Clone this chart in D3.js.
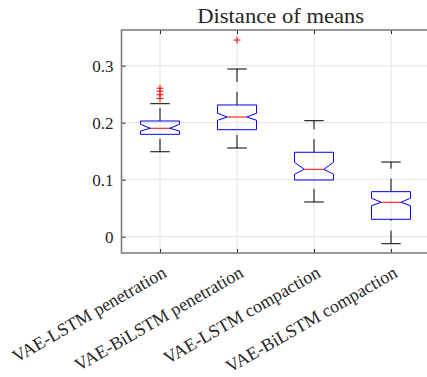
<!DOCTYPE html>
<html>
<head>
<meta charset="utf-8">
<script src="https://cdn.jsdelivr.net/npm/d3@7"></script>
<style>
  body { margin: 0; background: #fff; }
  svg { display: block; }
</style>
</head>
<body>
<div id="chart"></div>
<script>
const categories = ["VAE-LSTM penetration", "VAE-BiLSTM penetration", "VAE-LSTM compaction", "VAE-BiLSTM compaction"];
const q1 = [0.1796, 0.1877, 0.0995, 0.0305];
const q3 = [0.2030, 0.2311, 0.1481, 0.0790];
const medians = [0.1902, 0.2100, 0.1182, 0.0604];
const notchLo = [0.1854, 0.2042, 0.1095, 0.0544];
const notchHi = [0.1972, 0.2165, 0.1305, 0.0674];
const whiskerLo = [0.1490, 0.1556, 0.0609, -0.0123];
const whiskerHi = [0.2333, 0.2942, 0.2035, 0.1310];
const outliers = [[0.2425, 0.2490, 0.2555, 0.2605], [0.3450], [], []];
const yTicks = [0, 0.1, 0.2, 0.3];
const yTickLabels = ["0", "0.1", "0.2", "0.3"];

const width = 427, height = 377;
const mLeft = 121.5, mRight = 429.5, mTop = 30, mBottom = 253;
const serif = "Liberation Serif";

let svg = d3.select("#chart").append("svg")
    .attr("width", width)
    .attr("height", height);

let x = d3.scaleLinear().domain([0.5, 4.5]).range([mLeft, mRight]);
let y = d3.scaleLinear().domain([-0.0286, 0.3626]).range([mBottom, mTop]);
let pos = categories.map((c, i) => i + 1);

// grid
let grid = svg.append("g").attr("stroke", "#e3e3e3").attr("stroke-width", 1);
grid.selectAll("line.gy").data(yTicks).join("line")
    .attr("x1", mLeft).attr("x2", mRight)
    .attr("y1", d => y(d)).attr("y2", d => y(d));
grid.selectAll("line.gx").data(pos).join("line")
    .attr("x1", d => x(d)).attr("x2", d => x(d))
    .attr("y1", mTop).attr("y2", mBottom);

// axes (MATLAB style: ticks inside, box on), labels drawn separately
let yAxis = d3.axisLeft(y).tickValues(yTicks).tickSize(-4).tickFormat("");
let gy = svg.append("g").attr("transform", `translate(${mLeft},0)`).call(yAxis);
gy.select(".domain").remove();
gy.selectAll(".tick line").attr("stroke", "#262626");

let xAxisTop = d3.axisTop(x).tickValues(pos).tickSize(-4).tickFormat("");
let gxt = svg.append("g").attr("transform", `translate(0,${mTop})`).call(xAxisTop);
gxt.select(".domain").remove();
gxt.selectAll(".tick line").attr("stroke", "#262626");

let xAxis = d3.axisBottom(x).tickValues(pos).tickSize(-4).tickFormat("");
let gx = svg.append("g").attr("transform", `translate(0,${mBottom})`).call(xAxis);
gx.select(".domain").remove();
gx.selectAll(".tick line").attr("stroke", "#262626");

svg.append("rect")
    .attr("x", mLeft).attr("y", mTop)
    .attr("width", mRight - mLeft).attr("height", mBottom - mTop)
    .attr("fill", "none").attr("stroke", "#7f7f7f").attr("stroke-width", 1.6);

// y tick labels
svg.append("g").selectAll("text").data(yTicks).join("text")
    .attr("x", mLeft - 8)
    .attr("y", d => y(d) + 6)
    .attr("text-anchor", "end")
    .attr("font-family", serif)
    .attr("font-size", 17)
    .attr("fill", "#262626")
    .text((d, i) => yTickLabels[i]);

// x tick labels rotated
svg.append("g").selectAll("text").data(categories).join("text")
    .attr("transform", (d, i) => `translate(${x(i + 1) + 7.5},${mBottom + 23}) rotate(-30)`)
    .attr("text-anchor", "end")
    .attr("font-family", serif)
    .attr("font-size", 18)
    .attr("fill", "#262626")
    .text(d => d);

// boxes
const bw = 19.5;
let boxes = svg.append("g").selectAll("g").data(pos).join("g");

boxes.append("line")
    .attr("x1", d => x(d)).attr("x2", d => x(d))
    .attr("y1", (d, i) => y(q3[i])).attr("y2", (d, i) => y(whiskerHi[i]))
    .attr("stroke", "#000").attr("stroke-dasharray", "13,10");
boxes.append("line")
    .attr("x1", d => x(d)).attr("x2", d => x(d))
    .attr("y1", (d, i) => y(whiskerLo[i])).attr("y2", (d, i) => y(q1[i]))
    .attr("stroke", "#000").attr("stroke-dasharray", "13,10");

boxes.append("line")
    .attr("x1", d => x(d) - bw / 2).attr("x2", d => x(d) + bw / 2)
    .attr("y1", (d, i) => y(whiskerHi[i])).attr("y2", (d, i) => y(whiskerHi[i]))
    .attr("stroke", "#000");
boxes.append("line")
    .attr("x1", d => x(d) - bw / 2).attr("x2", d => x(d) + bw / 2)
    .attr("y1", (d, i) => y(whiskerLo[i])).attr("y2", (d, i) => y(whiskerLo[i]))
    .attr("stroke", "#000");

boxes.append("path")
    .attr("d", (d, i) => {
        let cx = x(d);
        let p = d3.path();
        p.moveTo(cx - bw, y(q3[i]));
        p.lineTo(cx + bw, y(q3[i]));
        p.lineTo(cx + bw, y(notchHi[i]));
        p.lineTo(cx + bw / 2, y(medians[i]));
        p.lineTo(cx + bw, y(notchLo[i]));
        p.lineTo(cx + bw, y(q1[i]));
        p.lineTo(cx - bw, y(q1[i]));
        p.lineTo(cx - bw, y(notchLo[i]));
        p.lineTo(cx - bw / 2, y(medians[i]));
        p.lineTo(cx - bw, y(notchHi[i]));
        p.closePath();
        return p.toString();
    })
    .attr("fill", "none").attr("stroke", "#0000ff").attr("stroke-width", 1);

boxes.append("line")
    .attr("x1", d => x(d) - bw / 2).attr("x2", d => x(d) + bw / 2)
    .attr("y1", (d, i) => y(medians[i])).attr("y2", (d, i) => y(medians[i]))
    .attr("stroke", "#ff0000");

// outliers as red +
let outData = [];
outliers.forEach((arr, i) => arr.forEach(v => outData.push({ p: i + 1, v: v })));
svg.append("g").selectAll("path").data(outData).join("path")
    .attr("d", d => {
        let cx = x(d.p), cy = y(d.v), r = 3.5;
        return `M${cx - r},${cy}H${cx + r}M${cx},${cy - r}V${cy + r}`;
    })
    .attr("stroke", "#ff0000").attr("fill", "none");

// title
svg.append("text")
    .attr("x", 280.7).attr("y", 22.7)
    .attr("text-anchor", "middle")
    .attr("font-family", serif)
    .attr("font-size", 21)
    .attr("fill", "#262626")
    .attr("textLength", 167).attr("lengthAdjust", "spacingAndGlyphs")
    .text("Distance of means");
</script>
</body>
</html>
